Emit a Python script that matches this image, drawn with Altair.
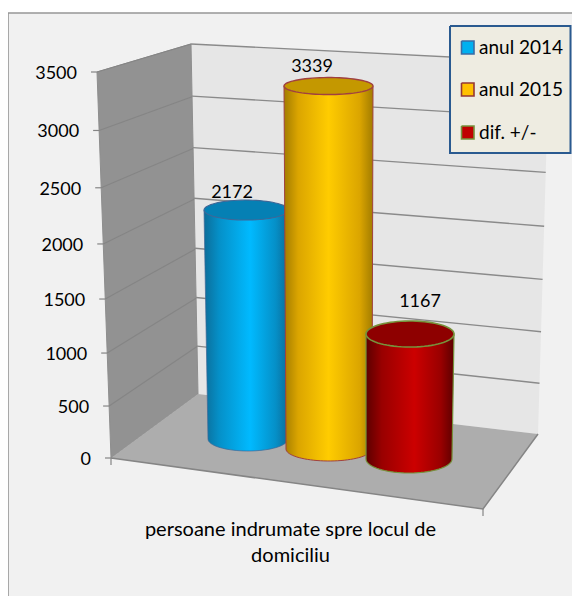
import numpy as np
import pandas as pd
import altair as alt

# ---- chart values ----
series_names = ["anul 2014", "anul 2015", "dif. +/-"]
series_values = [2172, 3339, 1167]
axis_ticks = [0, 500, 1000, 1500, 2000, 2500, 3000, 3500]
category_lines = ["persoane indrumate spre locul de", "domiciliu"]

# ---- layout of the 3D box (corner anchors of the perspective planes) ----
VMAX = 3500.0
LEFT_WALL = [(111, 458), (97, 72), (191, 44), (198, 394)]    # front-bottom, front-top, back-top, back-bottom
BACK_WALL = [(198, 394), (191, 44), (549, 62), (538, 434)]   # left-bottom, left-top, right-top, right-bottom
FLOOR = [(111, 458), (198, 394), (538, 434), (483, 509)]
FONT = "Lato"
FS = 18


def homography(corners):
    """Map (u, t) in the unit square to the plane through 4 corners: (0,0),(0,1),(1,1),(1,0)."""
    src = [(0, 0), (0, 1), (1, 1), (1, 0)]
    A, b = [], []
    for (u, t), (x, y) in zip(src, corners):
        A.append([u, t, 1, 0, 0, 0, -u * x, -t * x]); b.append(x)
        A.append([0, 0, 0, u, t, 1, -u * y, -t * y]); b.append(y)
    h = np.linalg.solve(np.array(A, float), np.array(b, float))
    H = np.append(h, 1).reshape(3, 3)

    def f(u, t):
        p = H @ np.array([u, t, 1.0])
        return float(p[0] / p[2]), float(p[1] / p[2])
    return f


left_h = homography(LEFT_WALL)
back_h = homography(BACK_WALL)

X = alt.X("x:Q", scale=alt.Scale(domain=[8, 572], nice=False, zero=False), axis=None)
Y = alt.Y("y:Q", scale=alt.Scale(domain=[596, 8], nice=False, zero=False), axis=None)


def gradient(stops):
    return {"gradient": "linear", "x1": 0, "x2": 1, "y1": 0, "y2": 0,
            "stops": [{"offset": o, "color": c} for o, c in stops]}


def path(points, fill=None, stroke=None, sw=1.0):
    df = pd.DataFrame(points, columns=["x", "y"])
    df["i"] = range(len(df))
    kw = {}
    if fill is not None:
        kw["fill"] = fill
    kw["stroke"] = stroke if stroke is not None else "transparent"
    kw["strokeWidth"] = sw
    return alt.Chart(df).mark_line(interpolate="linear", **kw).encode(x=X, y=Y, order="i:Q")


def label(x, y, text, align="center", size=FS, color="#000000"):
    df = pd.DataFrame({"x": [x], "y": [y], "t": [text]})
    return alt.Chart(df).mark_text(font=FONT, fontSize=size, align=align, baseline="middle",
                                   color=color).encode(x=X, y=Y, text="t:N")


def ellipse(cx, cy, rx, ry, a0=0.0, a1=2 * np.pi, n=72):
    return [(cx + rx * np.cos(a), cy + ry * np.sin(a)) for a in np.linspace(a0, a1, n)]


layers = []
# page + border
layers.append(path([(8, 13), (600, 13), (600, 620), (8, 620), (8, 13)], fill="#f1f1f1", stroke="#969696", sw=1.6))

# walls
layers.append(path(BACK_WALL + [BACK_WALL[0]], fill="#e6e6e6"))
layers.append(path(LEFT_WALL + [LEFT_WALL[0]], fill="#929292", stroke="#8e8e8e", sw=1))

# grid lines and axis ticks
for v in axis_ticks:
    t = v / VMAX
    fx, fy = left_h(0, t)
    bx, by = left_h(1, t)
    rx, ry = back_h(1, t)
    lx, ly = back_h(0, t)
    if v > 0:
        layers.append(path([(fx, fy), (bx, by)], stroke="#858585", sw=1.2))
        layers.append(path([(lx, ly), (rx, ry)], stroke="#8a8a8a", sw=1.4))
    layers.append(path([(fx - 6, fy), (fx, fy)], stroke="#858585", sw=1.2))
    layers.append(label(fx - 20, fy + 2, str(v), align="right"))

# floor
layers.append(path(FLOOR + [FLOOR[0]], fill="#adadad"))
layers.append(path([FLOOR[0], FLOOR[3], FLOOR[2]], stroke="#858585", sw=1.5))
layers.append(path([FLOOR[0], (FLOOR[0][0], FLOOR[0][1] + 7)], stroke="#858585", sw=1.2))
layers.append(path([FLOOR[3], (FLOOR[3][0], FLOOR[3][1] + 7)], stroke="#858585", sw=1.2))

# cylinders: geometry per series, height from the value
cyl_layout = [
    dict(bx=248, by=439, bhw=40, bry=12, tx=246, thw=42, try_=10, k=0.1054,
         grad=[(0, "#0c6d99"), (0.18, "#0590c8"), (0.55, "#00baff"), (0.85, "#0590c8"), (1, "#0c6d99")],
         top="#0580b4", line="#3f6797", lab=(232, 192.5), sw=0.7),
    dict(bx=329, by=449, bhw=43, bry=12, tx=328.5, thw=44.5, try_=8.5, k=0.1087,
         grad=[(0, "#a27c00"), (0.16, "#dba500"), (0.5, "#ffcc00"), (0.85, "#dba500"), (1, "#a27c00")],
         top="#c49800", line="#a04040", lab=(312, 67), sw=1.0),
    dict(bx=409, by=459, bhw=43, bry=14, tx=410, thw=44, try_=13, k=0.1071,
         grad=[(0, "#5c0000"), (0.18, "#990000"), (0.55, "#cc0000"), (0.85, "#990000"), (1, "#5c0000")],
         top="#8e0000", line="#76923c", lab=(420, 302), sw=1.2),
]

for val, c in zip(series_values, cyl_layout):
    ty = c["by"] - c["k"] * val
    arc = ellipse(c["bx"], c["by"], c["bhw"], c["bry"], 0, np.pi, 40)
    body = [(c["tx"] - c["thw"], ty), (c["tx"] + c["thw"], ty)] + arc + [(c["tx"] - c["thw"], ty)]
    layers.append(path(body, fill=gradient(c["grad"]), stroke=c["line"], sw=c["sw"]))
    layers.append(path(ellipse(c["tx"], ty, c["thw"], c["try_"]), fill=c["top"], stroke=c["line"], sw=c["sw"] + 0.4))

for val, c in zip(series_values, cyl_layout):
    layers.append(label(c["lab"][0], c["lab"][1], str(val)))

# category label
layers.append(label(290.5, 530, category_lines[0], size=20))
layers.append(label(290.5, 556, category_lines[1], size=20))

# legend
layers.append(path([(450, 26), (570.5, 26), (570.5, 153), (450, 153), (450, 26)], fill="#eeece1", stroke="#2a5a90", sw=2))
leg_style = [("#00b0f0", "#3a6ca5"), ("#ffc000", "#953735"), ("#c00000", "#76923c")]
for name, (f, s), y0 in zip(series_names, leg_style, [41, 83, 126]):
    layers.append(path([(461.5, y0), (474, y0), (474, y0 + 13), (461.5, y0 + 13), (461.5, y0)], fill=f, stroke=s, sw=1.6))
    layers.append(label(479, y0 + 7, name, align="left", size=19))

chart = alt.layer(*layers).properties(
    width=564, height=588, padding=0, autosize=alt.AutoSizeParams(type="none"),
    background="white"
).configure_view(stroke=None)

chart.save("out.html", embed_options={"renderer": "svg", "actions": False})
